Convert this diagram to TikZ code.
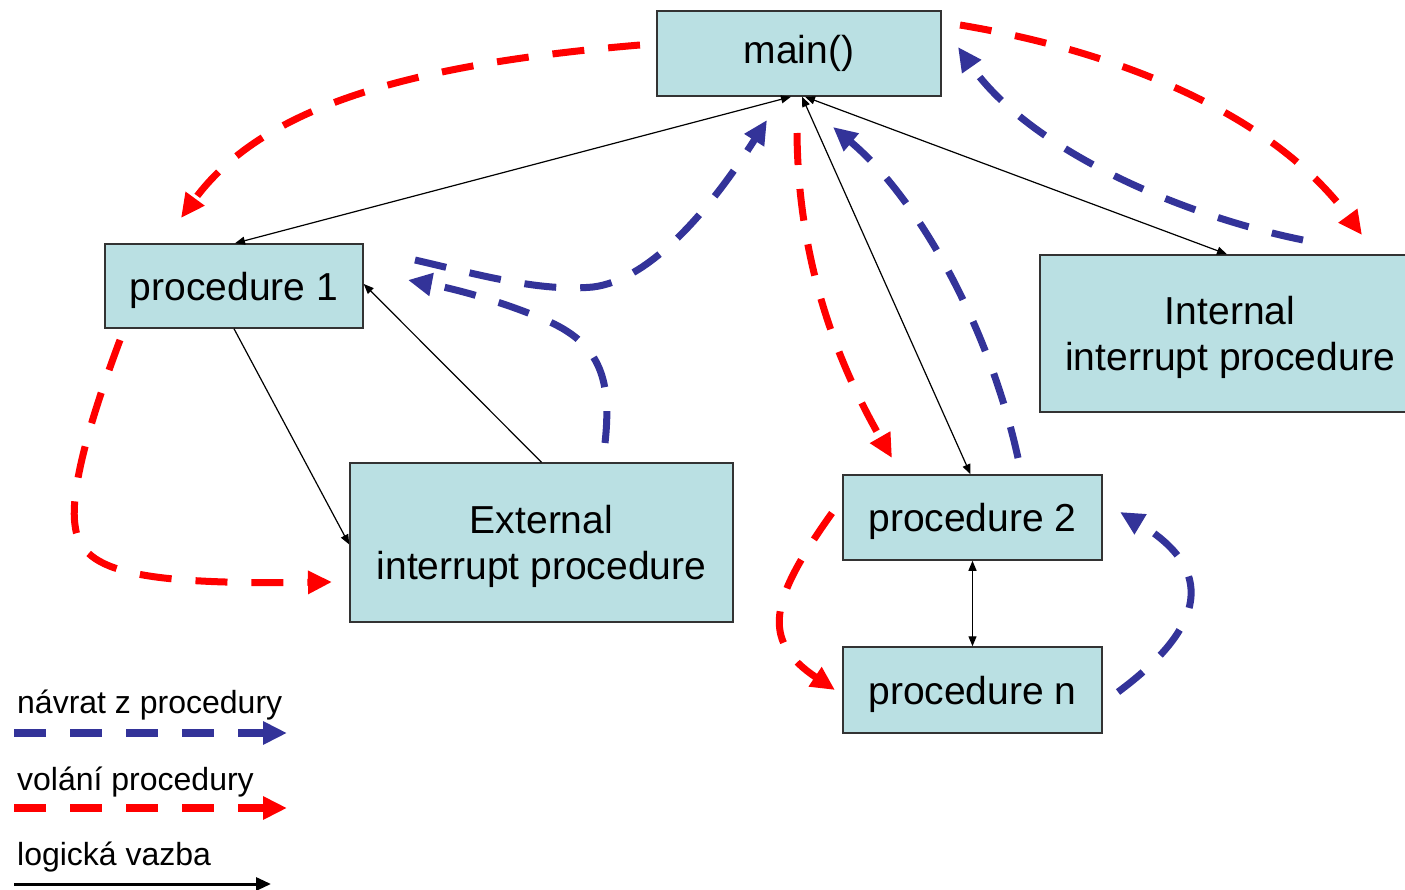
\documentclass[tikz,border=0pt]{standalone}
\usepackage{fontspec}
\setmainfont{Liberation Sans}
\usetikzlibrary{arrows.meta}
\definecolor{boxfill}{RGB}{186,224,227}
\definecolor{retblue}{RGB}{51,51,153}
\definecolor{callred}{RGB}{255,0,0}
\begin{document}
\begin{tikzpicture}[x=1pt,y=-1pt,
  box/.style={draw=black!80, line width=1.5pt, fill=boxfill, align=center,
    inner sep=0pt, font=\fontsize{39}{46}\selectfont},
  lowtext/.style={text depth=0pt},
  logic/.style={line width=1.2pt, -{Triangle[length=10pt,width=8pt]}},
  logicboth/.style={line width=1.2pt, {Triangle[length=10pt,width=8pt]}-{Triangle[length=10pt,width=8pt]}},
  bigtip/.style={-{Triangle[length=24pt,width=22pt]}},
  call/.style={draw=callred, line width=7pt, dash pattern=on 32pt off 24pt, bigtip},
  ret/.style={draw=retblue, line width=7pt, dash pattern=on 32pt off 24pt, bigtip},
  legendtext/.style={anchor=base west, inner sep=0pt, font=\fontsize{32}{38}\selectfont}]
\useasboundingbox (0,0) rectangle (1405,890);

% boxes
\node[box, minimum width=284pt, minimum height=85pt] (main) at (799,53.5) {main()};
\node[box, lowtext, minimum width=258pt, minimum height=84pt] (p1) at (234,286) {procedure 1};
\node[box, lowtext, minimum width=383pt, minimum height=159pt] (ext) at (541.5,542.5) {External\\interrupt procedure};
\node[box, lowtext, minimum width=259pt, minimum height=85pt] (p2) at (972.5,517.5) {procedure 2};
\node[box, lowtext, minimum width=259pt, minimum height=86pt] (pn) at (972.5,690) {procedure n};
\node[box, lowtext, minimum width=380pt, minimum height=157pt] (int) at (1230,333.5) {Internal\\interrupt procedure};

% logical links
\draw[logicboth] ([xshift=-8pt]main.south) -- ([xshift=1pt]p1.north);
\draw[logicboth] ([xshift=3pt]main.south) -- ([xshift=-2pt]p2.north);
\draw[logicboth] ([xshift=6pt]main.south) -- ([xshift=-3pt]int.north);
\draw[logic] (p1.south) -- ([yshift=-2pt]ext.west);
\draw[logic] (ext.north) -- ([yshift=2pt]p1.east);
\draw[logicboth] (p2.south) -- (pn.north);

% free ends of the dashed connectors
\coordinate (c1s) at (640,45);   \coordinate (c1e) at (181,218);
\coordinate (c2s) at (960,25);   \coordinate (c2e) at (1362,235);
\coordinate (c3s) at (797,133);  \coordinate (c3e) at (892,458);
\coordinate (c4s) at (120,340);  \coordinate (c4m) at (75,525);  \coordinate (c4e) at (332,582);
\coordinate (c5s) at (832,513);  \coordinate (c5e) at (835,690);
\coordinate (r1s) at (1303,240); \coordinate (r1e) at (958,47);
\coordinate (r2s) at (1018,458); \coordinate (r2e) at (833,127);
\coordinate (r3s) at (605,443);  \coordinate (r3m) at (550,322); \coordinate (r3e) at (408,280);
\coordinate (r4s) at (415,260);  \coordinate (r4m) at (593,287); \coordinate (r4e) at (767,120);
\coordinate (r5s) at (1118,692); \coordinate (r5e) at (1120,512);

% calls (red)
\draw[call] (c1s) .. controls (400,65) and (260,110) .. (c1e);
\draw[call] (c2s) .. controls (1110,50) and (1270,110) .. (c2e);
\draw[call] (c3s) .. controls (798,250) and (830,350) .. (c3e);
\draw[call] (c4s) .. controls (90,420) and (70,490) .. (c4m) .. controls (80,570) and (130,585) .. (c4e);
\draw[call] (c5s) .. controls (770,600) and (760,640) .. (c5e);

% returns (blue)
\draw[ret] (r1s) .. controls (1180,215) and (1030,150) .. (r1e);
\draw[ret] (r2s) .. controls (990,330) and (920,200) .. (r2e);
\draw[ret] (r3s) .. controls (612,380) and (600,345) .. (r3m) .. controls (500,300) and (450,288) .. (r3e);
\draw[ret] (r4s) .. controls (480,275) and (540,292) .. (r4m) .. controls (650,280) and (710,210) .. (r4e);
\draw[ret] (r5s) .. controls (1195,635) and (1225,575) .. (r5e);

% legend
\node[legendtext] (lret) at (17,713) {návrat z procedury};
\coordinate (lra) at (14,733); \coordinate (lrb) at (287,733);
\draw[ret, line width=8pt] (lra) -- (lrb);
\node[legendtext] (lcall) at (17,790) {volání procedury};
\coordinate (lca) at (14,808); \coordinate (lcb) at (287,808);
\draw[call, line width=8pt] (lca) -- (lcb);
\node[legendtext] (llog) at (17,865) {logická vazba};
\coordinate (lla) at (14,884); \coordinate (llb) at (271,884);
\draw[line width=3pt, -{Triangle[length=15pt,width=13pt]}] (lla) -- (llb);
\end{tikzpicture}
\end{document}
